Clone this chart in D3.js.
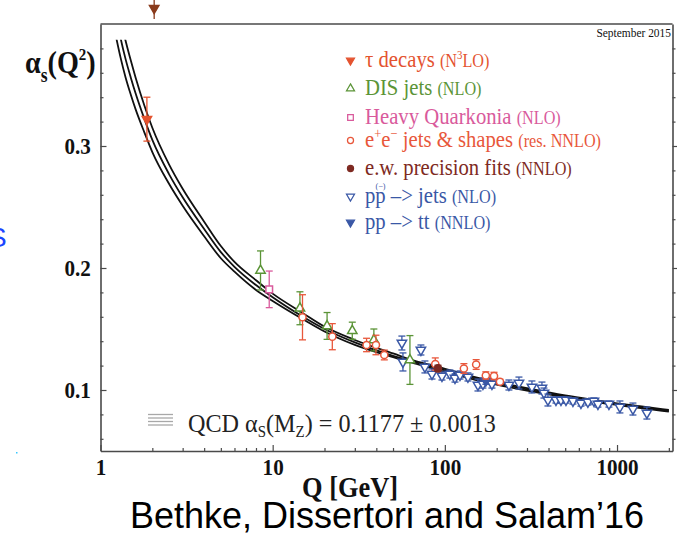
<!DOCTYPE html>
<html>
<head>
<meta charset="utf-8">
<script src="https://cdn.jsdelivr.net/npm/d3@7"></script>
<style>
  html, body { margin: 0; padding: 0; background: #fff; }
  svg { display: block; }
</style>
</head>
<body>
<svg id="chart" width="677" height="535"></svg>
<script>
// ---- QCD running coupling: central curve and band edges (alpha_s(MZ) = 0.1177 +- 0.0013)
const curveQ   = [1.2, 1.31, 1.4, 1.5, 1.6, 1.8, 2, 2.5, 3, 4, 5, 6, 8, 10, 15, 20, 30, 50, 70, 91.19, 150, 200, 300, 500, 700, 1000, 1500, 2000];
const curveMid = [0.416, 0.388, 0.371, 0.356, 0.343, 0.322, 0.305, 0.277, 0.258, 0.232, 0.213, 0.201, 0.186, 0.176, 0.160, 0.150, 0.139, 0.128, 0.122, 0.1177, 0.1095, 0.1055, 0.1005, 0.0948, 0.0915, 0.0884, 0.0852, 0.0830];
const curveUp  = [0.435, 0.404, 0.386, 0.370, 0.356, 0.333, 0.315, 0.285, 0.265, 0.238, 0.218, 0.205, 0.190, 0.179, 0.163, 0.152, 0.141, 0.130, 0.123, 0.1190, 0.1106, 0.1066, 0.1015, 0.0956, 0.0923, 0.0891, 0.0859, 0.0837];
const curveLo  = [0.397, 0.372, 0.356, 0.342, 0.330, 0.311, 0.295, 0.269, 0.251, 0.226, 0.208, 0.197, 0.182, 0.173, 0.158, 0.148, 0.137, 0.127, 0.121, 0.1164, 0.1084, 0.1045, 0.0995, 0.0940, 0.0907, 0.0877, 0.0845, 0.0823];

// ---- Measurements: scale Q [GeV], alpha_s, symmetric uncertainty
const tauQ = [1.86],  tauA = [0.322],  tauE = [0.018];
const disQ = [8.5, 14.4, 20.7, 29, 38.7, 62.7];
const disA = [0.198, 0.167, 0.1525, 0.1486, 0.141, 0.1246];
const disE = [0.016, 0.0135, 0.011, 0.007, 0.009, 0.020];
const hqQ = [9.55], hqA = [0.1825], hqE = [0.015];
const eeQ = [14.9, 22.2, 35.1, 39.8, 44.5, 88, 129, 152, 173, 193, 209];
const eeA = [0.1596, 0.1437, 0.1369, 0.1369, 0.1287, 0.1213, 0.1176, 0.1209, 0.1119, 0.1115, 0.1068];
const eeE = [0.0185, 0.0107, 0.0055, 0.008, 0.004, 0.005, 0.004, 0.004, 0.003, 0.003, 0.002];
const ewQ = [91.19], ewA = [0.1177], ewE = [0.0026];
const ppjQ = [56.3, 57.1, 72.6, 76.6, 84.2, 96.2, 107, 114.5, 122.4, 136.2, 155.7, 166.4, 187.7, 235.6, 269.4,
              320.5, 366.4, 376.3, 396.9, 441.8, 472.4, 505.1, 554.5, 617.1, 677.6, 734.3, 774.6, 897.4, 1039.4, 1237, 1491];
const ppjA = [0.1385, 0.1230, 0.1328, 0.1189, 0.1131, 0.1115, 0.1131, 0.1098, 0.1123, 0.1107, 0.1041, 0.1049, 0.1049, 0.1041, 0.1057,
              0.1025, 0.1016, 0.0975, 0.0918, 0.0918, 0.0918, 0.0918, 0.0910, 0.0893, 0.0902, 0.0910, 0.0885, 0.0885, 0.0861, 0.0844, 0.0811];
const ppjE = [0.0057, 0.0074, 0.0041, 0.0049, 0.0041, 0.0033, 0.0033, 0.0033, 0.0033, 0.0033, 0.0049, 0.0033, 0.0033, 0.0041, 0.0049,
              0.0049, 0.0049, 0.0041, 0.0049, 0.0025, 0.0025, 0.0025, 0.0025, 0.0025, 0.0025, 0.0025, 0.0025, 0.0025, 0.0049, 0.0049, 0.0049];
const pptQ = [173], pptA = [0.1077], pptE = [0.0030];
// marker sitting above the frame at low Q
const topQ = [2.05], topA = [0.413], topE = [0.009];

// ---- Axis ticks
const yMajor = [0.1, 0.2, 0.3];
const yMinor = [0.06, 0.08, 0.12, 0.14, 0.16, 0.18, 0.22, 0.24, 0.26, 0.28, 0.32, 0.34, 0.36, 0.38];
const xMajor = [1, 10, 100, 1000];
const xMinor = [2,3,4,5,6,7,8,9, 20,30,40,50,60,70,80,90, 200,300,400,500,600,700,800,900, 2000];

// ---- Colours
const C = {
  tau: "#e4532f", dis: "#5b9437", hq: "#d95a9c", ee: "#e8573b",
  ew: "#7e2a22", pp: "#3a58a6", top: "#8a3b1c"
};

const SERIF = "'Liberation Serif','Times New Roman',serif";
const SQ = 0.88; // horizontal squeeze of serif lettering

const svg = d3.select("#chart");
const P = { left: 100.5, right: 672.5, top: 24, bottom: 451 };

const x = d3.scaleLog().domain([1, 2100]).range([P.left, P.right]);
const y = d3.scaleLinear().domain([0.05, 0.40]).range([P.bottom, P.top]);

// ---- Axes
const axisColor = "#4a4a4a";
function styleAxis(g) {
  g.select(".domain").attr("stroke", axisColor).attr("stroke-width", 1.6);
  g.selectAll(".tick line").attr("stroke", axisColor).attr("stroke-width", 1.2);
}

const gLeft = svg.append("g").attr("transform", `translate(${P.left},0)`)
  .call(d3.axisLeft(y).tickValues(yMajor).tickSize(-6).tickSizeOuter(0).tickPadding(11).tickFormat(d3.format(".1f")));
styleAxis(gLeft);
gLeft.selectAll(".tick text")
  .attr("font-family", SERIF).attr("font-weight", "bold").attr("font-size", 24)
  .attr("fill", "#111").attr("transform", `scale(${SQ},1)`);
svg.append("g").attr("transform", `translate(${P.left},0)`)
  .call(d3.axisLeft(y).tickValues(yMinor).tickSize(-3).tickSizeOuter(0).tickFormat(""))
  .call(styleAxis).select(".domain").remove();

const gRight = svg.append("g").attr("transform", `translate(${P.right},0)`)
  .call(d3.axisRight(y).tickValues(yMajor).tickSize(5).tickSizeOuter(0).tickFormat(""));
styleAxis(gRight);
svg.append("g").attr("transform", `translate(${P.right},0)`)
  .call(d3.axisRight(y).tickValues(yMinor).tickSize(3).tickSizeOuter(0).tickFormat(""))
  .call(styleAxis).select(".domain").remove();

const gBottom = svg.append("g").attr("transform", `translate(0,${P.bottom})`)
  .call(d3.axisBottom(x).tickValues(xMajor).tickSize(-6).tickSizeOuter(0).tickPadding(7).tickFormat(d3.format("d")));
styleAxis(gBottom);
gBottom.selectAll(".tick text")
  .attr("font-family", SERIF).attr("font-weight", "bold").attr("font-size", 24)
  .attr("fill", "#111").attr("transform", `scale(${SQ},1)`);
svg.append("g").attr("transform", `translate(0,${P.bottom})`)
  .call(d3.axisBottom(x).tickValues(xMinor).tickSize(-3).tickSizeOuter(0).tickFormat(""))
  .call(styleAxis).select(".domain").remove();

// top edge of the frame
svg.append("line").attr("x1", P.left).attr("x2", P.right).attr("y1", P.top).attr("y2", P.top)
  .attr("stroke", axisColor).attr("stroke-width", 1.6);

// ---- Curves
svg.append("clipPath").attr("id", "curveClip").append("rect")
  .attr("x", P.left).attr("y", y(0.387)).attr("width", P.right - P.left).attr("height", P.bottom - y(0.387));
const line = d3.line().x(d => x(d[0])).y(d => y(d[1])).curve(d3.curveMonotoneX);
const gCurve = svg.append("g").attr("clip-path", "url(#curveClip)");
[curveUp, curveMid, curveLo].forEach(arr => {
  gCurve.append("path")
    .attr("d", line(curveQ.map((q, i) => [q, arr[i]])))
    .attr("fill", "none").attr("stroke", "#111").attr("stroke-width", 1.8);
});

// ---- Markers
const symTri = d3.symbol().type(d3.symbolTriangle).size(38)();
const symSq = d3.symbol().type(d3.symbolSquare).size(44)();
const symCirc = d3.symbol().type(d3.symbolCircle).size(40)();

function drawMarker(g, shape, color, filled) {
  const p = g.append("path")
    .attr("stroke", color).attr("stroke-width", 1.5)
    .attr("fill", filled ? color : "#fff");
  if (shape === "down") p.attr("d", symTri).attr("transform", "rotate(180)");
  else if (shape === "up") p.attr("d", symTri);
  else if (shape === "square") p.attr("d", symSq);
  else p.attr("d", symCirc);
}

function drawSeries(Q, A, E, shape, color, filled, caps = true) {
  const g = svg.append("g");
  Q.forEach((q, i) => {
    const cx = x(q), y0 = y(A[i] - E[i]), y1 = y(A[i] + E[i]);
    const eg = g.append("g").attr("stroke", color).attr("stroke-width", 1.3);
    eg.append("line").attr("x1", cx).attr("x2", cx).attr("y1", y0).attr("y2", y1);
    if (caps) {
      eg.append("line").attr("x1", cx - 3.5).attr("x2", cx + 3.5).attr("y1", y0).attr("y2", y0);
      eg.append("line").attr("x1", cx - 3.5).attr("x2", cx + 3.5).attr("y1", y1).attr("y2", y1);
    }
    const mg = g.append("g").attr("transform", `translate(${cx},${y(A[i])})`);
    drawMarker(mg, shape, color, filled);
  });
}

drawSeries(ppjQ, ppjA, ppjE, "down", C.pp, false);
drawSeries(pptQ, pptA, pptE, "down", C.pp, true);
drawSeries(disQ, disA, disE, "up", C.dis, false);
drawSeries(hqQ, hqA, hqE, "square", C.hq, false);
drawSeries(eeQ, eeA, eeE, "circle", C.ee, false);
drawSeries(ewQ, ewA, ewE, "circle", C.ew, true);
drawSeries(tauQ, tauA, tauE, "down", C.tau, true);
drawSeries(topQ, topA, topE, "down", C.top, true, false);

// ---- Legend
const legendRows = [
  { shape: "down",   filled: true,  color: C.tau, parts: [["big", "τ decays "], ["small", "(N"], ["sup", "3"], ["small", "LO)"]] },
  { shape: "up",     filled: false, color: C.dis, parts: [["big", "DIS jets "], ["small", "(NLO)"]] },
  { shape: "square", filled: false, color: C.hq,  parts: [["big", "Heavy Quarkonia "], ["small", "(NLO)"]] },
  { shape: "circle", filled: false, color: C.ee,  parts: [["big", "e"], ["supb", "+"], ["big", "e"], ["supb", "−"], ["big", " jets & shapes "], ["small", "(res. NNLO)"]] },
  { shape: "circle", filled: true,  color: C.ew,  parts: [["big", "e.w. precision fits "], ["small", "(NNLO)"]] },
  { shape: "down",   filled: false, color: C.pp,  parts: [["big", "pp –> jets "], ["small", "(NLO)"]], bar: true },
  { shape: "down",   filled: true,  color: C.pp,  parts: [["big", "pp –> tt "], ["small", "(NNLO)"]] }
];
const legendBase = [67, 95, 124, 147, 175, 203, 229];
const legendMarkX = 350.5, legendTextX = 365;

legendRows.forEach((row, i) => {
  const b = legendBase[i];
  const mg = svg.append("g").attr("transform", `translate(${legendMarkX},${b - 6.5}) scale(0.85)`);
  drawMarker(mg, row.shape, row.color, row.filled);
  const tg = svg.append("g").attr("transform", `translate(${legendTextX},${b}) scale(0.9,1)`);
  const t = tg.append("text").attr("font-family", SERIF).attr("fill", row.color);
  let shift = 0;
  row.parts.forEach(([kind, str]) => {
    const ts = t.append("tspan").text(str);
    let dy = 0;
    if (kind === "big") { ts.attr("font-size", 23); dy = -shift; shift = 0; }
    else if (kind === "small") { ts.attr("font-size", 18); dy = -shift; shift = 0; }
    else if (kind === "sup") { ts.attr("font-size", 12); dy = -8 - shift; shift = -8; }
    else if (kind === "supb") { ts.attr("font-size", 14); dy = -9 - shift; shift = -9; }
    if (dy !== 0) ts.attr("dy", dy);
  });
  if (row.bar) {
    const node = t.node();
    const w1 = node.getSubStringLength(0, 1);
    const w2 = node.getSubStringLength(1, 1);
    tg.append("text").attr("font-family", SERIF).attr("fill", row.color)
      .attr("font-size", 9).attr("text-anchor", "middle")
      .attr("x", w1 + w2 / 2).attr("y", -14).text("(−)");
  }
});

// date stamp
svg.append("g").attr("transform", `translate(671,37) scale(${SQ},1)`)
  .append("text").attr("font-family", SERIF).attr("font-size", 13).attr("text-anchor", "end")
  .attr("fill", "#111").text("September 2015");

// ---- Band legend
[414.5, 418, 421.5, 425].forEach(yy => {
  svg.append("line").attr("x1", 148).attr("x2", 173).attr("y1", yy).attr("y2", yy)
    .attr("stroke", "#a8a8a8").attr("stroke-width", 1.3);
});
const qcd = svg.append("g").attr("transform", `translate(188,432) scale(0.93,1)`)
  .append("text").attr("font-family", SERIF).attr("font-size", 26).attr("fill", "#222");
qcd.append("tspan").text("QCD α");
qcd.append("tspan").attr("font-size", 16).attr("dy", 5).text("S");
qcd.append("tspan").attr("dy", -5).text("(M");
qcd.append("tspan").attr("font-size", 16).attr("dy", 5).text("Z");
qcd.append("tspan").attr("dy", -5).text(") = 0.1177 ± 0.0013");

// ---- Axis titles
const yt = svg.append("g").attr("transform", `translate(25,73) scale(${SQ},1)`)
  .append("text").attr("font-family", SERIF).attr("font-weight", "bold").attr("fill", "#111");
yt.append("tspan").attr("font-size", 32).text("α");
yt.append("tspan").attr("font-size", 20).attr("dy", 9).text("s");
yt.append("tspan").attr("font-size", 32).attr("dy", -9).text("(Q");
yt.append("tspan").attr("font-size", 17).attr("dy", -13).text("2");
yt.append("tspan").attr("font-size", 32).attr("dy", 13).text(")");

svg.append("g").attr("transform", `translate(350,497) scale(${SQ},1)`)
  .append("text").attr("font-family", SERIF).attr("font-weight", "bold").attr("font-size", 30)
  .attr("text-anchor", "middle").attr("fill", "#111").text("Q [GeV]");

// ---- Citation
svg.append("text").attr("x", 387).attr("y", 528).attr("text-anchor", "middle")
  .attr("font-family", "'Liberation Sans',Arial,sans-serif").attr("font-size", 36)
  .attr("fill", "#000").text("Bethke, Dissertori and Salam’16");

// slide remnants at the left edge
svg.append("text").attr("x", -12).attr("y", 247).attr("font-family", "'Liberation Sans',Arial,sans-serif")
  .attr("font-size", 28).attr("fill", "#1a45ff").text("S");
svg.append("rect").attr("x", 16).attr("y", 452).attr("width", 1.5).attr("height", 1.5).attr("fill", "#37c8ff");
</script>
</body>
</html>
